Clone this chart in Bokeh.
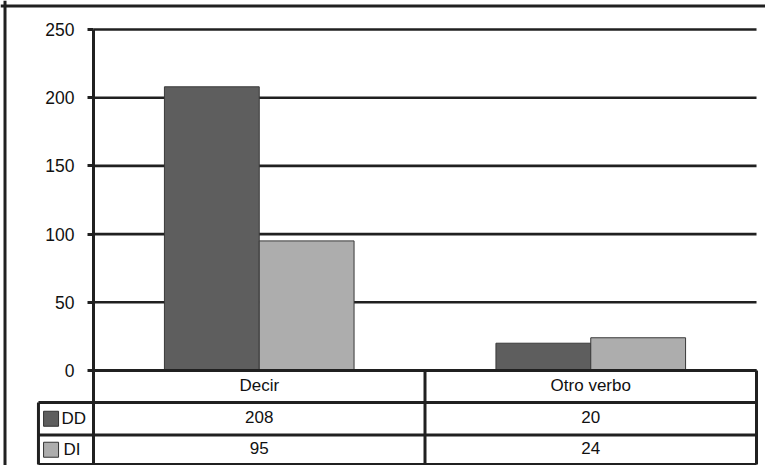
from bokeh.plotting import figure
from bokeh.models import Range1d, FixedTicker, LinearAxis, ColumnDataSource
from bokeh.transform import dodge
from bokeh.core.properties import value
from bokeh.embed import file_html
from bokeh.resources import INLINE

# ---- data ----
categories = ["Decir", "Otro verbo"]
series = ["DD", "DI"]
dd_values = [208, 20]
di_values = [95, 24]
y_ticks = [0, 50, 100, 150, 200, 250]
colors = ["#5e5e5e", "#adadad"]

FONT = "Liberation Sans"
LINE = "#202020"
TXT = "#111111"

# layout constants (data units)
X0, X1 = -0.2805, 2.0271
Y0, Y1 = -69.65, 271.26
ROW_LINES = [0, -23.46, -47.3, -68.9]
LEG_LEFT = -0.166
BAR_W = 0.286

cat_x = [i + 0.5 for i in range(len(categories))]
src = ColumnDataSource(dict(x=cat_x, cat=categories, DD=dd_values, DI=di_values))

p = figure(width=765, height=465,
           x_range=Range1d(X0, X1), y_range=Range1d(Y0, Y1),
           output_backend="svg", toolbar_location=None,
           x_axis_type=None, y_axis_type=None, min_border=0)
p.outline_line_color = None
p.background_fill_color = "white"
p.border_fill_color = "white"

# gridlines (0 .. n categories)
n = len(categories)
p.segment(x0=[0] * len(y_ticks), x1=[n] * len(y_ticks), y0=y_ticks, y1=y_ticks,
          line_color=LINE, line_width=2.6)

# bars
for s, col, off in zip(series, colors, [-BAR_W / 2, BAR_W / 2]):
    p.vbar(x=dodge("x", off), top=s, width=BAR_W, bottom=0, source=src,
           fill_color=col, line_color="#3a3a3a", line_width=1)

# y axis at x=0, extended down through the table
yaxis = LinearAxis(fixed_location=0, bounds=(ROW_LINES[-1], y_ticks[-1]),
                   ticker=FixedTicker(ticks=y_ticks))
yaxis.axis_line_color = LINE
yaxis.axis_line_width = 3
yaxis.major_tick_line_color = LINE
yaxis.major_tick_line_width = 3
yaxis.major_tick_out = 6
yaxis.major_tick_in = 0
yaxis.minor_tick_line_color = None
yaxis.major_label_standoff = 13
yaxis.major_label_text_font = FONT
yaxis.major_label_text_font_size = "17.5px"
yaxis.major_label_text_color = TXT
p.add_layout(yaxis, "left")

# data table lines
hx0 = [0] + [LEG_LEFT] * (len(ROW_LINES) - 1)
p.segment(x0=hx0, x1=[n] * len(ROW_LINES), y0=ROW_LINES, y1=ROW_LINES,
          line_color=LINE, line_width=3)
vx = list(range(1, n + 1))
p.segment(x0=vx, x1=vx, y0=[0] * len(vx), y1=[ROW_LINES[-1]] * len(vx),
          line_color=LINE, line_width=3)
p.segment(x0=[LEG_LEFT], x1=[LEG_LEFT], y0=[ROW_LINES[1]], y1=[ROW_LINES[-1]],
          line_color=LINE, line_width=3)

row_c = [(ROW_LINES[i] + ROW_LINES[i + 1]) / 2 for i in range(3)]

# table texts
p.text(x=cat_x, y=[row_c[0] + 0.5] * n, text=categories,
       text_font=value(FONT), text_font_size="17px", text_color=TXT,
       text_align="center", text_baseline="middle")
p.text(x=cat_x, y=[row_c[1] + 1.5] * n, text=[str(v) for v in dd_values],
       text_font=value(FONT), text_font_size="17px", text_color=TXT,
       text_align="center", text_baseline="middle")
p.text(x=cat_x, y=[row_c[2] + 1.5] * n, text=[str(v) for v in di_values],
       text_font=value(FONT), text_font_size="17px", text_color=TXT,
       text_align="center", text_baseline="middle")

# legend keys in the table
p.rect(x=[-0.128] * 2, y=row_c[1:], width=0.0452, height=11.0,
       fill_color=colors, line_color="#333333", line_width=1)
p.text(x=[-0.0965, -0.0905], y=row_c[1:], text=series,
       text_font=value(FONT), text_font_size="17px", text_color=TXT,
       text_align="left", text_baseline="middle")

# outer chart border (top and left edges)
p.segment(x0=[X0, -0.2669], x1=[X1, -0.2669], y0=[267.2, Y1], y1=[267.2, Y0],
          line_color=LINE, line_width=3)

open("out.html", "w").write(file_html(p, INLINE))
